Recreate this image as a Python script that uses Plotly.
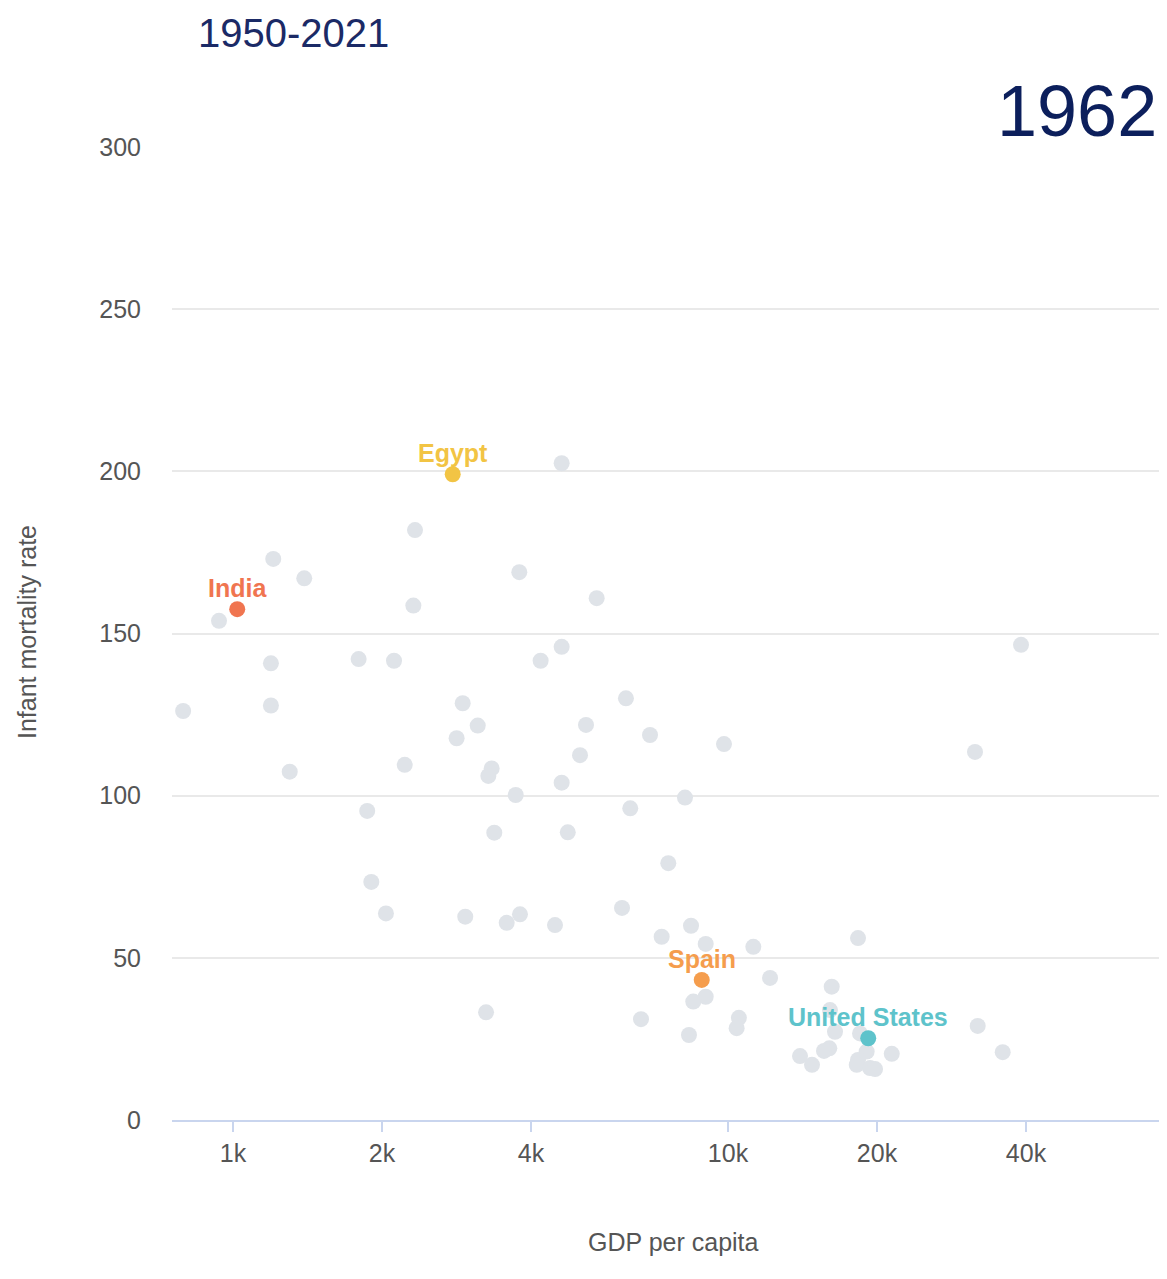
import math
import plotly.graph_objects as go

# Background countries (1962): GDP per capita, infant mortality rate
gdp_other = [793, 937, 1206, 1193, 1193, 1393, 1302, 1794, 2115, 2332, 2314, 2223,
             1867, 1903, 2037, 4613, 3788, 5429, 4183, 4613, 2911, 3122, 2830, 3331,
             3280, 3725, 5166, 5024, 4613, 3372, 4746, 6221, 6958, 6347, 8187, 9815,
             7575, 2946, 3572, 3800, 4472, 6108, 3245, 6672, 7345, 8420, 9015, 11250,
             9015, 8509, 8340, 10520, 10410, 12160, 16200, 16070, 16450, 18480, 18310,
             16020, 15630, 13980, 14780, 19060, 18310, 18200, 19360, 19820, 21420,
             31950, 35890, 31550, 39080]
imr_other = [126.1, 153.9, 173.0, 140.8, 127.8, 167.0, 107.4, 142.1, 141.6, 181.9, 158.6, 109.5,
             95.3, 73.4, 63.7, 202.5, 168.9, 160.9, 141.6, 145.9, 128.5, 121.6, 117.7, 108.4,
             106.1, 100.2, 121.8, 112.5, 104.0, 88.6, 88.7, 130.0, 118.7, 96.1, 99.4, 115.9,
             79.2, 62.7, 60.8, 63.4, 60.1, 65.4, 33.2, 31.1, 56.5, 59.9, 54.3, 53.4,
             38.0, 36.5, 26.2, 31.5, 28.3, 43.8, 41.1, 33.9, 27.2, 26.7, 56.1,
             22.1, 21.3, 19.7, 17.0, 21.1, 18.5, 17.0, 16.0, 15.7, 20.4,
             29.0, 20.9, 113.5, 146.5]

# Highlighted countries
hl_names = ["India", "Egypt", "Spain", "United States"]
hl_gdp = [1020, 2779, 8850, 19200]
hl_imr = [157.5, 199.1, 43.2, 25.2]
hl_colors = ["#f07550", "#f2c444", "#f59d4d", "#5ec3cb"]

x_tickvals = [1000, 2000, 4000, 10000, 20000, 40000]
x_ticktext = ["1k", "2k", "4k", "10k", "20k", "40k"]
y_tickvals = [0, 50, 100, 150, 200, 250, 300]

subtitle = "1950-2021"
year_label = "1962"
x_title = "GDP per capita"
y_title = "Infant mortality rate"

FONT = "Liberation Sans, Arial, Helvetica, sans-serif"

# page body has an 8px margin on every side; keep the figure inside the window
OFF = 8
W, H = 1167 - 2 * OFF, 1279 - 2 * OFF
L, T = 172 - OFF, 147 - OFF
B = H - (1120 - OFF)
PW, PH = W - L, H - T - B

fig = go.Figure()
fig.add_trace(go.Scatter(
    x=gdp_other, y=imr_other, mode="markers",
    marker=dict(size=16, color="#dfe3e8", line=dict(width=0)),
    hoverinfo="skip", showlegend=False, cliponaxis=False,
))
fig.add_trace(go.Scatter(
    x=hl_gdp, y=hl_imr, mode="markers",
    marker=dict(size=16, color=hl_colors, line=dict(width=0)),
    text=hl_names, showlegend=False, cliponaxis=False,
))

annotations = []
for name, gx, iy, col in zip(hl_names, hl_gdp, hl_imr, hl_colors):
    annotations.append(dict(
        text=name, x=math.log10(gx), y=iy, xref="x", yref="y",
        showarrow=False, xanchor="center", yanchor="middle", yshift=21,
        font=dict(family=FONT, size=25, color=col, weight="bold"),
    ))

annotations += [
    dict(text=subtitle, xref="paper", yref="paper", x=(196 - 172) / PW, y=(1120 - 33) / PH,
         xanchor="left", yanchor="middle", showarrow=False,
         font=dict(family=FONT, size=40, color="#1b2a66")),
    dict(text=year_label, xref="paper", yref="paper", x=1.0, y=(1120 - 111) / PH,
         xanchor="right", yanchor="middle", showarrow=False,
         font=dict(family=FONT, size=72, color="#0c1f5c")),
    dict(text=x_title, xref="paper", yref="paper", x=(673 - 172) / PW, y=(1120 - 1242) / PH,
         xanchor="center", yanchor="middle", showarrow=False,
         font=dict(family=FONT, size=25, color="#555555")),
    dict(text=y_title, xref="paper", yref="paper", x=(27 - 172) / PW, y=(1120 - 632) / PH,
         xanchor="center", yanchor="middle", showarrow=False, textangle=-90,
         font=dict(family=FONT, size=25, color="#555555")),
]

fig.update_layout(
    width=W, height=H,
    margin=dict(l=L, r=0, t=T, b=B),
    paper_bgcolor="white", plot_bgcolor="white",
    font=dict(family=FONT, color="#555555"),
    xaxis=dict(
        type="log", range=[2.8768, 4.8707],
        tickvals=x_tickvals, ticktext=x_ticktext,
        showgrid=False, zeroline=False,
        showline=True, linecolor="#c9d5ee", linewidth=2,
        ticks="outside", ticklen=10, tickcolor="#c9d5ee", tickwidth=1.5,
        tickfont=dict(size=25, color="#555555"),
    ),
    yaxis=dict(
        range=[0, 300], tickvals=y_tickvals,
        showgrid=True, gridcolor="#e9e9e9", gridwidth=1.5,
        zeroline=False, showline=False, ticks="",
        ticklabelstandoff=30,
        tickfont=dict(size=25, color="#555555"),
    ),
    annotations=annotations,
)

fig.write_html("out.html")
